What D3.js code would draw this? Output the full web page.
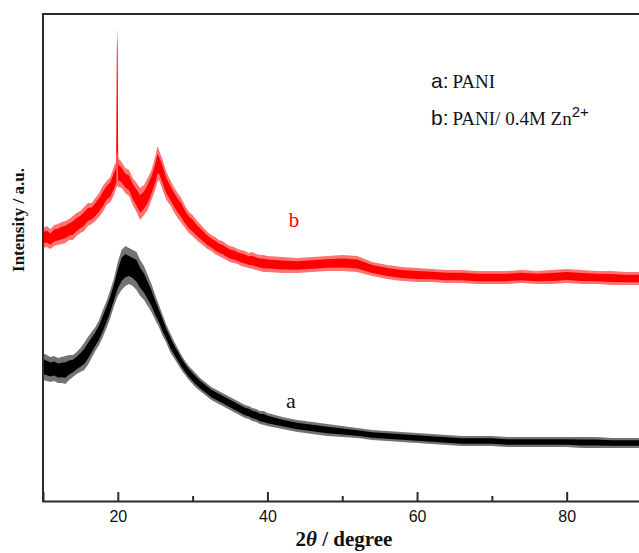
<!DOCTYPE html>
<html>
<head>
<meta charset="utf-8">
<script src="https://cdn.jsdelivr.net/npm/d3@7/dist/d3.min.js"></script>
<style>
  html, body { margin: 0; padding: 0; background: #fff; }
  svg { display: block; }
</style>
</head>
<body>
<svg id="chart" width="639" height="553"></svg>
<script>
// XRD patterns, intensity in arbitrary counts. Each trace is stored as the
// upper and lower edge of its noise band at each 2-theta position.

// b: PANI / 0.4M Zn2+
const thetaB = [10,10.5,11,11.5,12,12.5,13,13.5,14,14.5,15,15.5,16,16.5,17,17.5,18,18.5,19,19.5,19.8,19.88,19.92,19.96,20.05,20.5,21,21.5,22,22.5,23,23.5,24,24.5,25,25.3,25.5,26,26.5,27,27.5,28,28.5,29,29.5,30,30.5,31,31.5,32,32.5,33,33.5,34,34.5,35,35.5,36,36.5,37,37.5,38,38.5,39,39.5,40,42,44,46,48,50,52,54,56,58,60,62,64,66,68,70,72,74,76,78,80,82,84,86,88,90];
const bHigh = [273,275,272,276,277,279,280,282,285,288,290,294,298,298,303,308,315,320,324,335,339,461,474,456,343,339,333,331,323,318,313,316,323,331,344,355,351,341,329,321,314,308,303,295,289,286,281,277,273,269,266,264,261,260,257,255,254,252,251,250,248,249,247,246,246,245,244,243,244,245,246,245,239,236,234,233,232,231,231,230,230,230,231,230,231,232,231,230,230,229,229];
const bLow  = [253,254,252,255,256,257,258,261,261,265,268,270,275,277,280,284,289,296,299,306,313,315,315,315,314,313,308,305,296,289,281,286,291,301,311,319,321,311,301,296,289,283,278,273,268,265,261,258,255,252,250,247,245,243,241,239,238,237,235,234,233,232,231,230,229,229,228,228,229,230,230,229,225,222,220,219,219,218,218,217,217,217,218,217,217,218,217,217,216,216,216];

// a: PANI
const thetaA = [10,10.5,11,11.5,12,12.5,13,13.5,14,14.5,15,15.5,16,16.5,17,17.5,18,18.5,19,19.5,20,20.5,21,21.5,22,22.5,23,23.5,24,24.5,25,25.5,26,26.5,27,27.5,28,28.5,29,29.5,30,30.5,31,31.5,32,32.5,33,33.5,34,34.5,35,35.5,36,36.5,37,37.5,38,38.5,39,39.5,40,42,44,46,48,50,52,54,56,58,60,62,64,66,68,70,72,74,76,78,80,82,84,86,88,90];
const aHigh = [148,146,144,145,143,144,145,146,146,149,153,158,164,169,174,181,191,200,211,223,239,251,255,253,251,249,241,235,226,217,206,196,186,176,168,160,153,146,140,135,131,127,123,120,117,114,112,110,108,106,104,102,100,98,96,95,93,92,90,90,88,84,81,79,77,75,73,71,70,69,68,67,66,65,65,65,64,64,64,64,64,64,64,63,63,63];
const aLow  = [121,120,119,120,118,118,117,121,124,127,129,131,136,143,150,156,164,173,183,195,205,211,215,217,215,211,205,201,195,189,181,174,165,158,149,143,137,131,126,121,117,113,110,107,104,101,99,97,95,93,91,89,87,85,83,82,80,79,77,76,75,72,69,67,65,64,63,61,60,59,58,57,56,55,55,55,54,54,54,54,54,53,53,53,53,53];

const xTicksMajor = [20, 40, 60, 80];
const xTicksMinor = [30, 50, 70];

const seriesColors = { a: "#000000", b: "#ff0000" };

(function () {
  const svg = d3.select("#chart");
  const mLeft = 43, mRight = 640, mTop = 14, mBottom = 501;

  const x = d3.scaleLinear().domain([10, 89.8]).range([mLeft, mRight]);
  const y = d3.scaleLinear().domain([0, 487]).range([mBottom, mTop]);

  function traceRows(theta, hi, lo) {
    return theta.map((t, i) => ({ t, hi: hi[i], lo: lo[i] }));
  }

  function drawTrace(rows, color) {
    const g = svg.append("g");
    // full noise envelope
    g.append("path")
      .datum(rows)
      .attr("fill", color)
      .attr("fill-opacity", 0.55)
      .attr("d", d3.area().x(d => x(d.t)).y0(d => y(d.lo)).y1(d => y(d.hi)));
    // denser core of the band
    g.append("path")
      .datum(rows)
      .attr("fill", color)
      .attr("d", d3.area().x(d => x(d.t))
        .y0(d => y(d.lo + (d.hi - d.lo) * 0.22))
        .y1(d => y(d.hi - Math.min((d.hi - d.lo) * 0.22, 8))));
  }

  drawTrace(traceRows(thetaB, bHigh, bLow), seriesColors.b);
  drawTrace(traceRows(thetaA, aHigh, aLow), seriesColors.a);

  // frame
  const axisColor = "#2a2a2a";
  svg.append("line").attr("x1", mLeft).attr("x2", 639).attr("y1", mTop).attr("y2", mTop)
    .attr("stroke", axisColor).attr("stroke-width", 2);
  svg.append("line").attr("x1", mLeft).attr("x2", mLeft).attr("y1", mTop - 1).attr("y2", mBottom + 1)
    .attr("stroke", axisColor).attr("stroke-width", 2);

  // bottom axis with inward ticks
  const xAxis = d3.axisBottom(x).tickValues(xTicksMajor).tickSize(-9).tickPadding(10)
    .tickFormat(d3.format("d"));
  const gx = svg.append("g").attr("transform", `translate(0,${mBottom})`).call(xAxis);
  gx.select(".domain").attr("stroke", axisColor).attr("stroke-width", 2);
  gx.selectAll(".tick line").attr("stroke", axisColor).attr("stroke-width", 2);
  gx.selectAll(".tick text")
    .style("font-family", "'Liberation Sans', Arial, sans-serif")
    .style("font-size", "16px").attr("fill", "#111");

  const gxm = svg.append("g").attr("transform", `translate(0,${mBottom})`)
    .call(d3.axisBottom(x).tickValues(xTicksMinor).tickSize(-5).tickFormat(""));
  gxm.select(".domain").remove();
  gxm.selectAll(".tick line").attr("stroke", axisColor).attr("stroke-width", 2);

  const serif = "'Liberation Serif', 'Times New Roman', serif";
  const sans = "'Liberation Sans', Arial, sans-serif";

  // axis titles
  const xTitle = svg.append("text")
    .attr("x", 344).attr("y", 546)
    .attr("text-anchor", "middle")
    .style("font-family", serif)
    .style("font-weight", "bold").style("font-size", "21px").attr("fill", "#111");
  xTitle.append("tspan").text("2");
  xTitle.append("tspan").style("font-style", "italic").text("θ");
  xTitle.append("tspan").text(" / degree");

  svg.append("text")
    .attr("transform", "translate(24,220) rotate(-90)")
    .attr("text-anchor", "middle")
    .style("font-family", serif)
    .style("font-weight", "bold").style("font-size", "17px").attr("fill", "#111")
    .text("Intensity / a.u.");

  // legend
  const la = svg.append("text").attr("x", 431).attr("y", 88).attr("fill", "#111");
  la.append("tspan").style("font-family", sans).style("font-size", "21px").text("a:");
  la.append("tspan").attr("dx", 4).style("font-family", serif).style("font-size", "19px").text("PANI");

  const lb = svg.append("text").attr("x", 431).attr("y", 125).attr("fill", "#111");
  lb.append("tspan").style("font-family", sans).style("font-size", "21px").text("b:");
  lb.append("tspan").attr("dx", 4).style("font-family", serif).style("font-size", "19px").text("PANI/ 0.4M Zn");
  lb.append("tspan").style("font-family", sans).style("font-size", "15px").attr("dy", -8).text("2+");

  // curve tags
  svg.append("text").attr("x", 294).attr("y", 227).attr("text-anchor", "middle")
    .style("font-family", serif).style("font-size", "21px").attr("fill", seriesColors.b).text("b");
  svg.append("text").attr("x", 291).attr("y", 408).attr("text-anchor", "middle")
    .style("font-family", serif).style("font-size", "22px").attr("fill", "#111").text("a");
})();
</script>
</body>
</html>
